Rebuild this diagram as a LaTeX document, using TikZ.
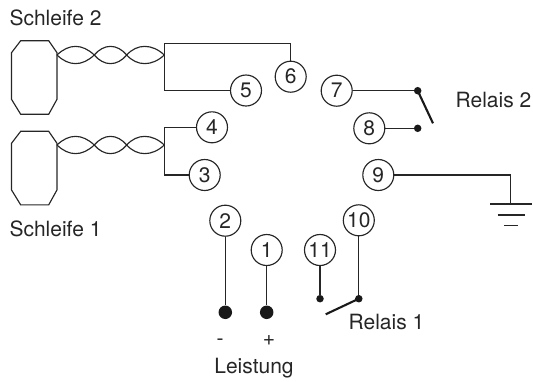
\documentclass[tikz,border=0pt]{standalone}
\usepackage{fontspec}
\setmainfont{TeX Gyre Heros}
\tikzset{
  x=1pt,y=-1pt,
  wire/.style={draw=black!85,line width=1.15pt,line join=miter},
  blade/.style={draw=black!90,line width=2.1pt},
  term/.style={circle,draw=black!85,line width=1.15pt,minimum size=31pt,inner sep=0pt,font=\fontsize{21}{22}\selectfont,text=black!85},
  lbl/.style={inner sep=0pt,font=\fontsize{21}{22}\selectfont,text=black!85,anchor=base},
  smalldot/.style={circle,fill=black!90,minimum size=7.5pt,inner sep=0pt},
  bigdot/.style={circle,fill=black!90,minimum size=13.5pt,inner sep=0pt}
}
\newcommand{\twistpair}[1]{%
  \draw[wire] (57,#1) .. controls (69,{#1-11.5}) and (82,{#1-11.5}) .. (94.3,#1)
     .. controls (104,{#1+11.5}) and (117,{#1+11.5}) .. (126.7,#1)
     .. controls (137,{#1-11.5}) and (152,{#1-11.5}) .. (164.3,#1);
  \draw[wire] (57,#1) .. controls (69,{#1+11.5}) and (82,{#1+11.5}) .. (94.3,#1)
     .. controls (104,{#1-11.5}) and (117,{#1-11.5}) .. (126.7,#1)
     .. controls (137,{#1+11.5}) and (152,{#1+11.5}) .. (164.3,#1);
}
\newcommand{\octa}[1]{%
  \draw[wire] (20.7,#1) -- (48.7,#1) -- (57,{#1+12}) -- (57,{#1+58.6}) -- (48.7,{#1+73.6})
     -- (20.7,{#1+73.6}) -- (11.5,{#1+58.6}) -- (11.5,{#1+12}) -- cycle;
}
\begin{document}
\begin{tikzpicture}
\useasboundingbox (0,0) rectangle (533,381);
% terminals
\node[term] (n1) at (266.7,250) {1};
\node[term] (n2) at (225.3,220.7) {2};
\node[term] (n3) at (204.7,175) {3};
\node[term] (n4) at (212,127.3) {4};
\node[term] (n5) at (246,90.5) {5};
\node[term] (n6) at (290.7,76.7) {6};
\node[term] (n7) at (336.7,90.7) {7};
\node[term] (n8) at (369.3,128.3) {8};
\node[term] (n9) at (378.3,175) {9};
\node[term] (n10) at (358.8,220.3) {10};
\node[term] (n11) at (320,250) {11};
% labels
\node[lbl] (ls2) at (55.5,25.5) {Schleife 2};
\node[lbl] (ls1) at (55.5,236) {Schleife 1};
\node[lbl] (lr2) at (493.5,107) {Relais 2};
\node[lbl] (lr1) at (386.5,329) {Relais 1};
\node[lbl] (lle) at (254,373) {Leistung};
\node[lbl] (lmi) at (220,345) {-};
\node[lbl] (lpl) at (269,345) {+};
% loops
\octa{40.7}
\octa{131.3}
\twistpair{55}
\twistpair{145}
% wires loop 2
\coordinate (j2t) at (164.3,43.3);
\coordinate (j2b) at (164.3,90.5);
\draw[wire] (n6.north) |- (j2t) -- (j2b) -- (n5.west);
% wires loop 1
\coordinate (j1t) at (164.3,127.3);
\coordinate (j1b) at (164.3,175);
\draw[wire] (n4.west) -- (j1t) -- (j1b) -- (n3.west);
% relay 2
\node[smalldot] (d7) at (417.7,90.7) {};
\node[smalldot] (d8) at (417.7,128.3) {};
\coordinate (b2) at (433,123.3);
\draw[wire] (n7.east) -- (d7);
\draw[wire] (n8.east) -- (d8);
\draw[blade] (d7.center) -- (b2);
% ground
\coordinate (gc) at (510.7,175);
\coordinate (g1) at (510.7,204);
\coordinate (g1l) at (490.3,204);
\coordinate (g1r) at (532.3,204);
\coordinate (g2l) at (497.7,215);
\coordinate (g2r) at (525,215);
\coordinate (g3l) at (504.3,225.7);
\coordinate (g3r) at (518.3,225.7);
\draw[wire] (n9.east) -- (gc) -- (g1);
\draw[wire] (g1l) -- (g1r);
\draw[wire] (g2l) -- (g2r);
\draw[wire] (g3l) -- (g3r);
% relay 1
\node[smalldot] (d11) at (320,298.7) {};
\node[smalldot] (d10) at (358.8,298.7) {};
\coordinate (b1) at (325.7,314.3);
\draw[wire] (n11.south) -- (d11);
\draw[wire] (n10.south) -- (d10);
\draw[blade] (d10.center) -- (b1);
% power
\node[bigdot] (dm) at (225.3,312.3) {};
\node[bigdot] (dp) at (266.7,312.3) {};
\draw[wire] (n2.south) -- (dm);
\draw[wire] (n1.south) -- (dp);
\end{tikzpicture}
\end{document}
